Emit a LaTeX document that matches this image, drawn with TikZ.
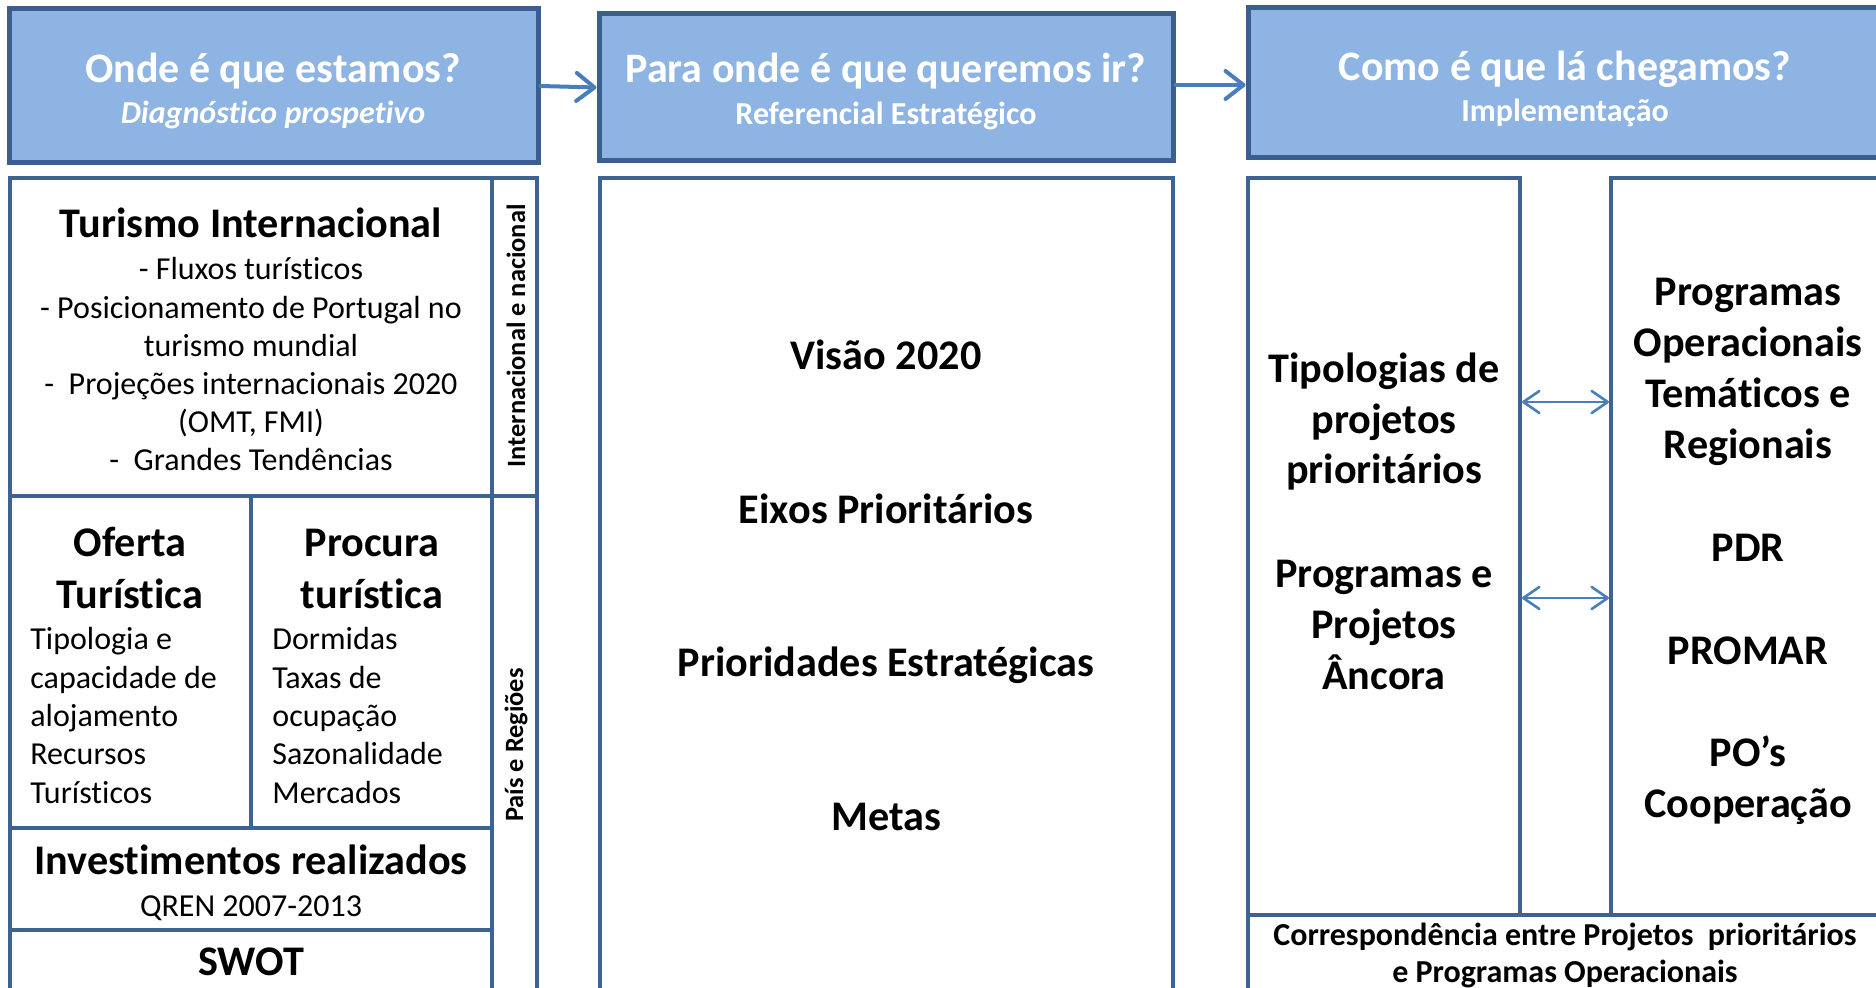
\documentclass[tikz,border=0pt]{standalone}
\usepackage{fontspec}
\setmainfont{Carlito}[Ligatures=NoCommon]
\usetikzlibrary{arrows.meta,fit}
\definecolor{hdrfill}{HTML}{8EB4E3}
\definecolor{hdrline}{HTML}{3A5F8E}
\definecolor{boxline}{HTML}{3D6393}
\definecolor{arrowblue}{HTML}{4A7EBB}
\begin{document}
\begin{tikzpicture}[x=0.5pt,y=-0.5pt,
  hdr/.style={draw=hdrline, fill=hdrfill, line width=2.5pt, inner sep=0pt},
  cell/.style={draw=boxline, line width=2pt, inner sep=0pt},
  ttl/.style={font=\bfseries\fontsize{21}{25}\selectfont, text=white, anchor=base, inner sep=0pt},
  sub/.style={font=\bfseries\fontsize{16}{19}\selectfont, text=white, anchor=base, inner sep=0pt},
  hd/.style={font=\bfseries\fontsize{21.1}{25}\selectfont, anchor=base, inner sep=0pt},
  bd/.style={font=\fontsize{16}{19}\selectfont, anchor=base, inner sep=0pt},
  bdl/.style={bd, anchor=base west},
  vt/.style={font=\bfseries\fontsize{13.2}{16}\selectfont, rotate=90, inner sep=0pt},
  cr/.style={font=\bfseries\fontsize{16}{19}\selectfont, anchor=base, inner sep=0pt},
  mainarrow/.style={draw=arrowblue, line width=2pt, line cap=round, -{Straight Barb[length=9pt,width=14pt,line cap=round,line join=round]}},
  duoarrow/.style={draw=arrowblue, line width=1.3pt, {Straight Barb[length=8pt,width=11pt,line cap=round,line join=round]}-{Straight Barb[length=8pt,width=11pt,line cap=round,line join=round]}}
]
\useasboundingbox (0,0) rectangle (1876,988);
\clip (0,0) rectangle (1876,988);

% header boxes
\node[hdr, fit={(9,9) (538,163)}] (box1) {};
\node[hdr, fit={(599,14) (1173,161)}] (box2) {};
\node[hdr, fit={(1248,8) (1882,158)}] (box3) {};

\node[ttl] (t1) at (273,83) {Onde é que estamos?};
\node[sub, font=\bfseries\itshape\fontsize{16}{19}\selectfont] (s1) at (273,124) {Diagnóstico prospetivo};
\node[ttl] (t2) at (886,83) {Para onde é que queremos ir?};
\node[sub] (s2) at (886,125) {Referencial Estratégico};
\node[ttl] (t3) at (1565,81) {Como é que lá chegamos?};
\node[sub] (s3) at (1565,122) {Implementação};

\draw[mainarrow] (box1.east) -- (box2.west);
\draw[mainarrow] (box2.east |- 0,85) -- (box3.west |- 0,85);

% left column
\node[cell, fit={(10,178) (492,496)}] (ti) {};
\node[cell, fit={(492,178) (537,496)}] (strip1) {};
\node[cell, fit={(10,496) (251,828)}] (oferta) {};
\node[cell, fit={(251,496) (492,828)}] (procura) {};
\node[cell, fit={(492,496) (537,1010)}] (strip2) {};
\node[cell, fit={(10,828) (492,930)}] (invest) {};
\node[cell, fit={(10,930) (492,1010)}] (swot) {};

\node[hd] (tih) at (251,238) {Turismo Internacional};
\foreach \y/\t [count=\i] in {280/{- Fluxos turísticos},319/{- Posicionamento de Portugal no},357/{turismo mundial},395/{-\ \ Projeções internacionais 2020},433/{(OMT, FMI)},471/{-\ \ Grandes Tendências}}
  \node[bd] (tib\i) at (251,\y) {\t};

\node[hd] (ofh1) at (130,557) {Oferta};
\node[hd] (ofh2) at (130,609) {Turística};
\foreach \y/\t [count=\i] in {650/{Tipologia e},689/{capacidade de},727/{alojamento},765/{Recursos},804/{Turísticos}}
  \node[bdl] (ofb\i) at (30,\y) {\t};

\node[hd] (prh1) at (372,557) {Procura};
\node[hd] (prh2) at (372,609) {turística};
\foreach \y/\t [count=\i] in {650/{Dormidas},689/{Taxas de},727/{ocupação},765/{Sazonalidade},804/{Mercados}}
  \node[bdl] (prb\i) at (272,\y) {\t};

\node[hd] (invh) at (251,875) {Investimentos realizados};
\node[bd] (invb) at (251,917) {QREN 2007-2013};
\node[hd] (swoth) at (251,975) {SWOT};

\node[vt] (v1) at (516,336) {Internacional e nacional};
\node[vt] (v2) at (516,745) {País e Regiões};

% middle column
\node[cell, fit={(600,178) (1173,1010)}] (mid) {};
\node[hd] (m1) at (886,370) {Visão 2020};
\node[hd] (m2) at (886,524) {Eixos Prioritários};
\node[hd] (m3) at (886,677) {Prioridades Estratégicas};
\node[hd] (m4) at (886,831) {Metas};

% right column
\node[cell, fit={(1248,178) (1520,915)}] (rl) {};
\node[cell, fit={(1611,178) (1882,915)}] (rr) {};
\node[cell, fit={(1248,915) (1882,1010)}] (corr) {};

\foreach \y/\t [count=\i] in {383/{Tipologias de},434/{projetos},484/{prioritários},588/{Programas e},639/{Projetos},690/{Âncora}}
  \node[hd] (rlt\i) at (1384,\y) {\t};
\foreach \y/\t [count=\i] in {306/{Programas},357/{Operacionais},408/{Temáticos e},459/{Regionais},562/{PDR},665/{PROMAR},767/{PO’s},818/{Cooperação}}
  \node[hd] (rrt\i) at (1748,\y) {\t};

\node[cr] (cr1) at (1565,946) {Correspondência entre Projetos\ \ prioritários};
\node[cr] (cr2) at (1565,983) {e Programas Operacionais};

\draw[duoarrow] (rl.east |- 0,402) -- (rr.west |- 0,402);
\draw[duoarrow] (rl.east |- 0,598) -- (rr.west |- 0,598);
\end{tikzpicture}
\end{document}
